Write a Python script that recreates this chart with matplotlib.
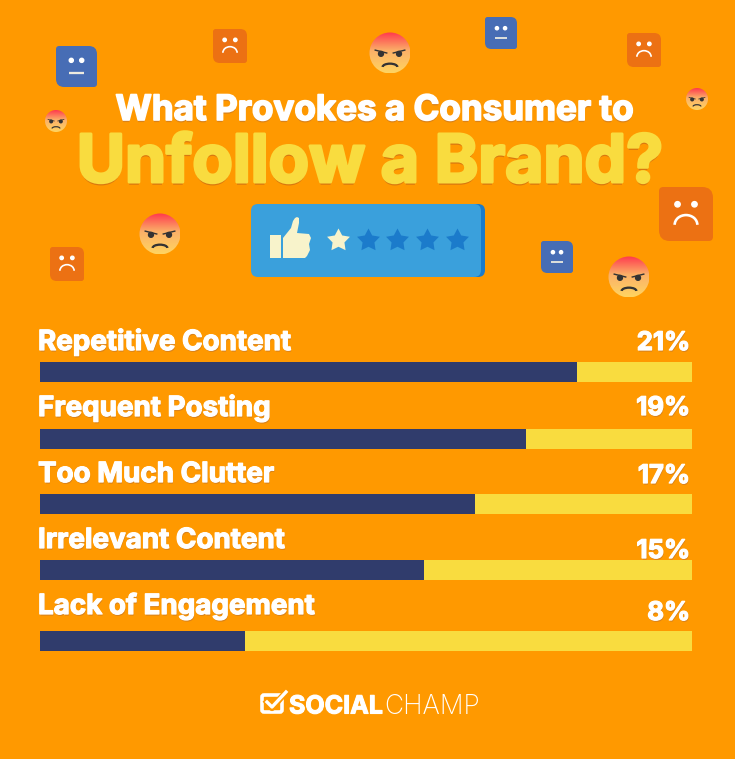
import numpy as np
import matplotlib
matplotlib.use("Agg")
import matplotlib.pyplot as plt
import matplotlib.patheffects as pe
from matplotlib.patches import Circle, PathPatch, Rectangle, Polygon, Arc, FancyBboxPatch
from matplotlib.path import Path

# Dane
categories = ["Repetitive Content", "Frequent Posting", "Too Much Clutter", "Irrelevant Content", "Lack of Engagement"]
percents = [21, 19, 17, 15, 8]
percent_labels = ["21%", "19%", "17%", "15%", "8%"]
track_max = 25.5

# Uklad w pikselach
bar_centers = [372, 439, 504, 570, 641]
label_base = [350, 416, 482, 548, 614]
percent_base = [350, 415, 483, 558, 620]

BG = "#FF9900"
NAVY = "#303C6C"
YELLOW = "#F9DC3F"
ORANGE = "#EC7113"
BLUE = "#476DB5"
FONT = "Inter"

fig = plt.figure(figsize=(7.35, 7.59), dpi=100, facecolor=BG)
ax = fig.add_axes([0, 0, 1, 1])
ax.set_xlim(0, 735)
ax.set_ylim(759, 0)
ax.axis("off")


# Kwadrat z rogami o roznym promieniu
def rounded_square(x0, y0, x1, y1, big, small, color):
    verts = [(x0 + small, y0), (x1 - big, y0), (x1, y0), (x1, y0 + big),
             (x1, y1 - small), (x1, y1), (x1 - small, y1),
             (x0 + big, y1), (x0, y1), (x0, y1 - big),
             (x0, y0 + small), (x0, y0), (x0 + small, y0), (x0 + small, y0)]
    codes = [Path.MOVETO, Path.LINETO, Path.CURVE3, Path.CURVE3,
             Path.LINETO, Path.CURVE3, Path.CURVE3,
             Path.LINETO, Path.CURVE3, Path.CURVE3,
             Path.LINETO, Path.CURVE3, Path.CURVE3, Path.CLOSEPOLY]
    ax.add_patch(PathPatch(Path(verts, codes), facecolor=color, edgecolor="none", zorder=2))


def neutral_face(x0, y0, size):
    rounded_square(x0, y0, x0 + size, y0 + size, size * 0.2, size * 0.08, BLUE)
    cx = x0 + size / 2
    for s in (-1, 1):
        ax.add_patch(Circle((cx + s * 0.127 * size, y0 + 0.35 * size), 0.05 * size, color="white", zorder=3))
    ax.plot([cx - 0.19 * size, cx + 0.19 * size], [y0 + 0.65 * size] * 2, color="#EDEBE0",
            lw=size * 0.04, solid_capstyle="butt", zorder=3)


def sad_face(x0, y0, size):
    rounded_square(x0, y0, x0 + size, y0 + size, size * 0.2, size * 0.08, ORANGE)
    cx = x0 + size / 2
    for s in (-1, 1):
        ax.add_patch(Circle((cx + s * 0.157 * size, y0 + 0.32 * size), 0.05 * size, color="white", zorder=3))
    ax.add_patch(Arc((cx, y0 + 0.7 * size), 0.42 * size, 0.36 * size, theta1=180, theta2=360,
                     color="white", lw=size * 0.035, zorder=3))


def angry_face(cx, cy, d):
    r = d / 2
    grad = np.linspace(0, 1, 64).reshape(-1, 1)
    top = np.array(matplotlib.colors.to_rgb("#FF3A4E"))
    mid = np.array(matplotlib.colors.to_rgb("#FBB068"))
    low = np.array(matplotlib.colors.to_rgb("#FFD461"))
    rgb = np.where(grad[..., None] < 0.45, top + (mid - top) * grad[..., None] / 0.45,
                   mid + (low - mid) * (grad[..., None] - 0.45) / 0.55)
    im = ax.imshow(rgb, extent=(cx - r, cx + r, cy + r, cy - r), zorder=2, aspect="auto", interpolation="bilinear")
    im.set_clip_path(Circle((cx, cy), r, transform=ax.transData))
    for s in (-1, 1):
        ax.add_patch(Circle((cx + s * 0.22 * d, cy + 0.02 * d), 0.06 * d, color="#333333", zorder=3))
        ax.plot([cx + s * 0.08 * d, cx + s * 0.36 * d], [cy + 0.0 * d, cy - 0.07 * d], color="#333333",
                lw=d * 0.025, zorder=3)
    ax.add_patch(Arc((cx, cy + 0.34 * d), 0.36 * d, 0.16 * d, theta1=180, theta2=360, color="#333333",
                     lw=d * 0.04, zorder=3))


for x0, y0, size in [(56, 46, 41), (485, 17, 32), (541, 241, 32)]:
    neutral_face(x0, y0, size)
for x0, y0, size in [(213, 29, 34), (50, 247, 34), (627, 33, 34), (659, 187, 54)]:
    sad_face(x0, y0, size)
for cx, cy, d in [(390, 53, 41), (56, 121, 22), (697, 99, 22), (160, 234, 41), (629, 277, 41)]:
    angry_face(cx, cy, d)
ax.set_xlim(0, 735)
ax.set_ylim(759, 0)

# Tytul
ax.text(374.5, 120, "What Provokes a Consumer to", ha="center", va="baseline", color="white",
        fontsize=25.2, fontweight="bold", family=FONT, zorder=5,
        path_effects=[pe.SimplePatchShadow(offset=(0, -1.5), shadow_rgbFace="#D9821A", alpha=1),
                      pe.withStroke(linewidth=1.2, foreground="white"), pe.Normal()])
ax.text(370, 182, "Unfollow a Brand?", ha="center", va="baseline", color=YELLOW,
        fontsize=47.5, fontweight="bold", family=FONT, zorder=5,
        path_effects=[pe.SimplePatchShadow(offset=(0, -2), shadow_rgbFace="#D9780F", alpha=1),
                      pe.withStroke(linewidth=2.2, foreground=YELLOW), pe.Normal()])

# Plakietka z gwiazdkami
rounded_square(255, 204, 485, 277, 7, 7, "#1B7BCB")
rounded_square(251, 204, 481, 277, 7, 7, "#3AA0DC")
ax.add_patch(Rectangle((270, 235), 11, 23, facecolor="#F8F3CB", edgecolor="none", zorder=3))
ax.add_patch(Polygon([(283, 258), (283, 238), (291, 228), (293, 221), (295, 218), (297, 217), (299, 218),
                      (299, 223), (297, 233), (309, 234), (311, 238), (309, 244), (310, 250), (307, 256),
                      (305, 258)], closed=True, facecolor="#F8F3CB", edgecolor="none", zorder=3))

# Grubsza gwiazdka niz domyslny marker
angles = np.pi / 2 + np.arange(10) * np.pi / 5
radii = np.where(np.arange(10) % 2 == 0, 1.0, 0.52)
star = Path(np.column_stack([radii * np.cos(angles), radii * np.sin(angles)]), closed=False)
ax.scatter([338], [240], marker=star, s=300, color="#F8F3CB", linewidths=0, zorder=3)
ax.scatter([368, 397, 427, 457], [240] * 4, marker=star, s=300, color="#1B7BCB", linewidths=0, zorder=3)

# Paski
bar_ax = fig.add_axes([40 / 735, 0, 652 / 735, 1])
bar_ax.set_xlim(0, track_max)
bar_ax.set_ylim(759, 0)
bar_ax.axis("off")
bar_ax.patch.set_alpha(0)
bar_ax.barh(bar_centers, [track_max] * len(percents), height=20, color=YELLOW, linewidth=0)
bar_ax.barh(bar_centers, percents, height=20, color=NAVY, linewidth=0)

shadow = [pe.SimplePatchShadow(offset=(0.5, -1.2), shadow_rgbFace="#D9821A", alpha=1),
          pe.withStroke(linewidth=0.9, foreground="white"), pe.Normal()]
for name, yb in zip(categories, label_base):
    ax.text(38, yb, name, ha="left", va="baseline", color="white", fontsize=20, fontweight="bold",
            family=FONT, path_effects=shadow, zorder=5)
for lab, yb in zip(percent_labels, percent_base):
    ax.text(690, yb, lab, ha="right", va="baseline", color="white", fontsize=18.5, fontweight="bold",
            family=FONT, path_effects=shadow, zorder=5)

# Logo
ax.add_patch(FancyBboxPatch((262, 695), 20, 17, boxstyle="round,pad=0,rounding_size=2", facecolor="none",
                            edgecolor="white", lw=2.6, zorder=5))
ax.plot([267, 272, 286], [702, 708, 692], color=BG, lw=4.5, zorder=6)
ax.plot([267, 272, 286], [702, 707, 692], color="white", lw=2.4, zorder=7)
ax.text(289, 713.5, "SOCIAL", ha="left", va="baseline", color="white", fontsize=18, fontweight="bold",
        family=FONT, zorder=5, path_effects=[pe.withStroke(linewidth=0.8, foreground="white")])
ax.text(384, 713.5, "CHAMP", ha="left", va="baseline", color="white", fontsize=19, fontweight="light",
        family=FONT, zorder=5)

fig.savefig("out.png", dpi=100, facecolor=BG)
